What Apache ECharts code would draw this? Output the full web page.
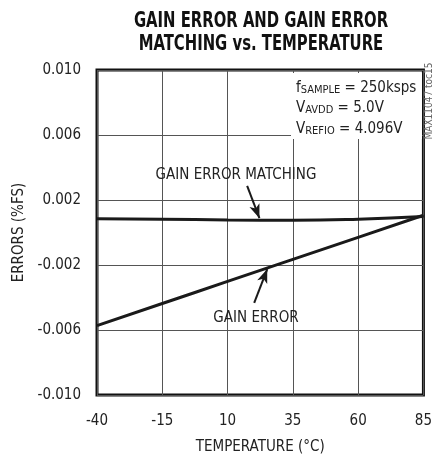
<!DOCTYPE html>
<html>
<head>
<meta charset="utf-8">
<script src="https://cdn.jsdelivr.net/npm/echarts@6/dist/echarts.min.js"></script>
<style>html,body{margin:0;padding:0;background:#fff}#c{width:435px;height:460px}</style>
</head>
<body>
<div id="c"></div>
<script>
// Data (temperature °C, errors %FS)
const temps = [-40, -15, 10, 35, 60, 85];
const gainError = [-0.00573, -0.00437, -0.00301, -0.00165, -0.00030, 0.00106];
const gainMatching = [0.00085, 0.00082, 0.00077, 0.00075, 0.00082, 0.00099];
const xTicks = [-40, -15, 10, 35, 60, 85];
const yTicks = [-0.010, -0.006, -0.002, 0.002, 0.006, 0.010];

// axis offsets so ticks start at multiples of interval
const X0 = -40, Y0 = -0.010, YS = 1000;
const tx = v => v - X0;
const ty = v => Math.round((v - Y0) * YS * 1e6) / 1e6;

const FONT = '"DejaVu Sans Condensed", "Liberation Sans Narrow", "Liberation Sans", sans-serif';
const sub = (a, b, c) => '{m|' + a + '}{s|' + b + '}{m|' + c + '}';
const richStyle = {
  m: {fontFamily: FONT, fontSize: 15, fill: '#222', lineHeight: 18, verticalAlign: 'bottom'},
  s: {fontFamily: FONT, fontSize: 11, fill: '#222', lineHeight: 13, verticalAlign: 'bottom'}
};

const chart = echarts.init(document.getElementById('c'));
chart.setOption({
  animation: false,
  grid: {left: 97, right: 10, top: 70, bottom: 62, show: true, borderColor: '#111', borderWidth: 3, backgroundColor: 'transparent'},
  xAxis: {
    type: 'value', min: 0, max: tx(85), interval: 25,
    name: 'TEMPERATURE (°C)', nameLocation: 'middle', nameGap: 45,
    nameTextStyle: {fontFamily: FONT, fontSize: 15, color: '#222'},
    axisLine: {show: false}, axisTick: {show: false},
    axisLabel: {fontFamily: FONT, fontSize: 15, color: '#222', margin: 19, formatter: v => String(v + X0)},
    splitLine: {show: true, lineStyle: {color: '#555', width: 1}}
  },
  yAxis: {
    type: 'value', min: 0, max: ty(0.010), interval: 4,
    name: 'ERRORS (%FS)', nameLocation: 'middle', nameGap: 55,
    nameTextStyle: {fontFamily: FONT, fontSize: 15, color: '#222'},
    axisLine: {show: false}, axisTick: {show: false},
    axisLabel: {fontFamily: FONT, fontSize: 15, color: '#222', margin: 16, formatter: v => (v / YS + Y0).toFixed(3)},
    splitLine: {show: true, lineStyle: {color: '#555', width: 1}}
  },
  graphic: [
    {type: 'text', x: 261, y: 21, scaleX: 0.75, z: 10, style: {text: 'GAIN ERROR AND GAIN ERROR', fontFamily: FONT, fontWeight: 'bold', fontSize: 22, fill: '#111', textAlign: 'center', textVerticalAlign: 'middle'}},
    {type: 'text', x: 261, y: 44, scaleX: 0.75, z: 10, style: {text: 'MATCHING vs. TEMPERATURE', fontFamily: FONT, fontWeight: 'bold', fontSize: 22, fill: '#111', textAlign: 'center', textVerticalAlign: 'middle'}},
    {type: 'rect', shape: {x: 291, y: 73, width: 131, height: 66}, style: {fill: '#fff'}, z: 5},
    {type: 'text', x: 236, y: 175, z: 10, style: {text: 'GAIN ERROR MATCHING', fontFamily: FONT, fontSize: 15, fill: '#222', textAlign: 'center', textVerticalAlign: 'middle'}},
    {type: 'text', x: 256, y: 318, z: 10, style: {text: 'GAIN ERROR', fontFamily: FONT, fontSize: 15, fill: '#222', textAlign: 'center', textVerticalAlign: 'middle'}},
    {type: 'text', x: 296, y: 87, z: 10, style: {text: sub('f', 'SAMPLE', ' = 250ksps'), rich: richStyle, textAlign: 'left', textVerticalAlign: 'middle'}},
    {type: 'text', x: 296, y: 107, z: 10, style: {text: sub('V', 'AVDD', ' = 5.0V'), rich: richStyle, textAlign: 'left', textVerticalAlign: 'middle'}},
    {type: 'text', x: 296, y: 128, z: 10, style: {text: sub('V', 'REFIO', ' = 4.096V'), rich: richStyle, textAlign: 'left', textVerticalAlign: 'middle'}},
    {type: 'text', z: 10, rotation: Math.PI / 2, x: 424, y: 101, style: {text: 'MAX11047 toc15', fontFamily: FONT, fontSize: 10, fill: '#666', textAlign: 'center', textVerticalAlign: 'top'}}
  ],
  series: [
    {
      type: 'line', name: 'GAIN ERROR', data: temps.map((t, i) => [tx(t), ty(gainError[i])]),
      symbol: 'none', smooth: true, lineStyle: {color: '#1a1a1a', width: 3}, z: 3,
      markLine: {silent: true, symbol: ['none', 'arrow'], symbolSize: [8, 14], label: {show: false},
        lineStyle: {color: '#1a1a1a', width: 2, type: 'solid'},
        data: [[{coord: [tx(20.2), ty(-0.00433)]}, {coord: [tx(25.2), ty(-0.00225)]}]]}
    },
    {
      type: 'line', name: 'GAIN ERROR MATCHING', data: temps.map((t, i) => [tx(t), ty(gainMatching[i])]),
      symbol: 'none', smooth: true, lineStyle: {color: '#1a1a1a', width: 3}, z: 3,
      markLine: {silent: true, symbol: ['none', 'arrow'], symbolSize: [8, 14], label: {show: false},
        lineStyle: {color: '#1a1a1a', width: 2, type: 'solid'},
        data: [[{coord: [tx(17.5), ty(0.00287)]}, {coord: [tx(22.2), ty(0.00088)]}]]}
    }
  ]
});
</script>
</body>
</html>
